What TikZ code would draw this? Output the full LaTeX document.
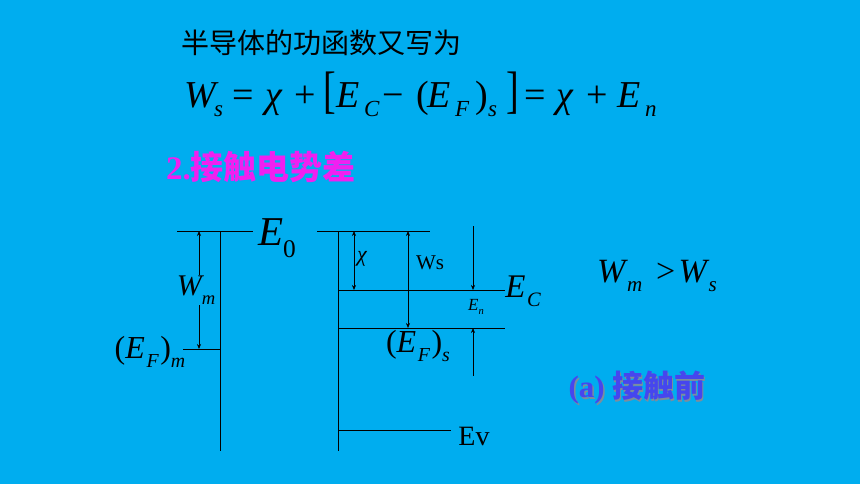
\documentclass[tikz,border=0pt]{standalone}
\usepackage{fontspec}
\setmainfont{Liberation Serif}
\newfontfamily\cjk{Noto Sans CJK SC}
\usetikzlibrary{arrows.meta}
\definecolor{bgc}{HTML}{00ADEF}
\definecolor{magc}{HTML}{F020F0}
\definecolor{bluc}{HTML}{4646EE}
\definecolor{shc}{HTML}{7E8C9C}
\newcommand\lsub[1]{\raisebox{-0.28em}{\scalebox{0.62}{\itshape #1}}}
\newcommand\usub[1]{\raisebox{-0.28em}{\scalebox{0.62}{#1}}}
\newcommand\fs[1]{\fontsize{#1}{#1}\selectfont}
\tikzset{
  lvl/.style={draw=black, line width=0.8pt},
  dim/.style={draw=black, line width=0.6pt, {Stealth[length=5pt,width=4pt]}-{Stealth[length=5pt,width=4pt]}},
  dimend/.style={draw=black, line width=0.6pt, -{Stealth[length=5pt,width=4pt]}},
  lbl/.style={inner sep=0pt, text=black},
  fm/.style={inner sep=0pt, text=black, anchor=base west, font=\fs{38}},
  fmi/.style={fm, font=\fs{38}\itshape},
  fsb/.style={inner sep=0pt, text=black, anchor=base west, font=\fs{23}\itshape},
}
\begin{document}
\begin{tikzpicture}[x=1pt,y=-1pt]
\fill[bgc] (0,0) rectangle (860,484);
\useasboundingbox (0,0) rectangle (860,484);

% texts on top
\node[lbl, anchor=west] (t1) at (181,43) {\cjk\fs{28}半导体的功函数又写为};

% formula W_s = chi + [E_C - (E_F)_s] = chi + E_n, baseline y=108
\node[fmi] (fW) at (184,108) {W};
\node[fsb] (fWs) at (214,117) {s};
\node[fm] (feq1) at (232,108) {=};
\node[fmi] (fchi1) at (265,108) {χ};
\node[fm] (fp1) at (294,108) {+};
\node[fm] (flb) at (323,108) {\scalebox{1}[1.35]{[}};
\node[fmi] (fE1) at (336,108) {E};
\node[fsb] (fC) at (364,117) {C};
\node[fm] (fmin) at (382,108) {−};
\node[fm] (flp) at (416,108) {(};
\node[fmi] (fE2) at (427,108) {E};
\node[fsb] (fF) at (455,117) {F};
\node[fm] (frp) at (475,108) {)};
\node[fsb] (fs2) at (488,117) {s};
\node[fm] (frb) at (506,108) {\scalebox{1}[1.35]{]}};
\node[fm] (feq2) at (524,108) {=};
\node[fmi] (fchi2) at (556,108) {χ};
\node[fm] (fp2) at (586,108) {+};
\node[fmi] (fE3) at (617,108) {E};
\node[fsb] (fn) at (645,117) {n};

\node[lbl, anchor=west, text=magc] (t2) at (166,167) {\fs{33}\bfseries 2.\cjk 接触电势差};

% metal
\coordinate (m0a) at (177,231); \coordinate (m0b) at (253,231);
\coordinate (mvt) at (220,231); \coordinate (mvb) at (220,451);
\coordinate (mfa) at (183,349); \coordinate (mfb) at (220,349);
\coordinate (wmt) at (199,231); \coordinate (wmb) at (199,349);
\draw[lvl] (m0a) -- (m0b);
\draw[lvl] (mvt) -- (mvb);
\draw[lvl] (mfa) -- (mfb);
\draw[dim] (wmt) -- (wmb);
\node[lbl, fill=bgc, inner sep=1pt] (wm) at (196,290) {\fs{30}{\itshape W}\lsub{m}};
\node[lbl] (efm) at (150,352) {\fs{32}({\itshape E}\hspace{0.05em}\lsub{F}\hspace{0.05em})\lsub{m}};
\node[lbl] (e0) at (277,238) {\fs{41}{\itshape E}\usub{0}};

% semiconductor
\coordinate (s0a) at (317,231); \coordinate (s0b) at (430,231);
\coordinate (svt) at (338,231); \coordinate (svb) at (338,451);
\coordinate (eca) at (338,290); \coordinate (ecb) at (505,290);
\coordinate (efa) at (338,328); \coordinate (efb) at (505,328);
\coordinate (eva) at (338,430); \coordinate (evb) at (451,430);
\draw[lvl] (s0a) -- (s0b);
\draw[lvl] (svt) -- (svb);
\draw[lvl] (eca) -- (ecb);
\draw[lvl] (efa) -- (efb);
\draw[lvl] (eva) -- (evb);
\coordinate (cht) at (354,231); \coordinate (chb) at (354,290);
\coordinate (wst) at (408,231); \coordinate (wsb) at (408,328);
\coordinate (ent) at (473,226); \coordinate (enb) at (473,290);
\coordinate (ent2) at (473,376); \coordinate (enb2) at (473,328);
\draw[dim] (cht) -- (chb);
\draw[dim] (wst) -- (wsb);
\draw[dimend] (ent) -- (enb);
\draw[dimend] (ent2) -- (enb2);
\node[lbl] (chi) at (362,259) {\fs{22}{\itshape χ}};
\node[lbl] (ws) at (430,263) {\fs{21}Ws};
\node[lbl] (en) at (476,307) {\fs{17}{\itshape E}\lsub{n}};
\node[lbl] (ec) at (523,291) {\fs{33}{\itshape E}\hspace{0.05em}\lsub{C}};
\node[lbl] (efs) at (418,346) {\fs{32}({\itshape E}\hspace{0.05em}\lsub{F}\hspace{0.05em})\lsub{s}};
\node[lbl] (ev) at (474,436) {\fs{28}Ev};

% right texts
\node[lbl] (cmp) at (657,276) {\fs{34}{\itshape W}\hspace{0.05em}\lsub{m}\hspace{0.4em}>\hspace{0.1em}{\itshape W}\hspace{0.05em}\lsub{s}};
\node[lbl, text=shc] (capsh) at (638.5,389.5) {\fs{31}\bfseries (a) \cjk 接触前};
\node[lbl, text=bluc] (cap) at (637,388) {\fs{31}\bfseries (a) \cjk 接触前};
\end{tikzpicture}
\end{document}
